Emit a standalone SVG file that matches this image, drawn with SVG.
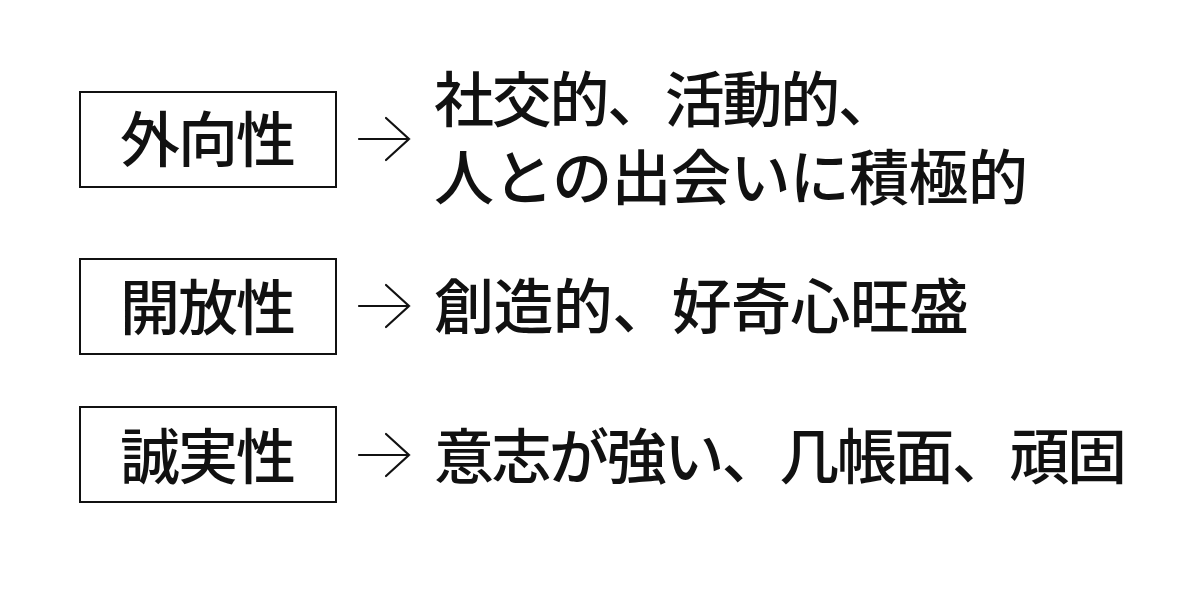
<svg xmlns="http://www.w3.org/2000/svg" width="1200" height="590" viewBox="0 0 1200 590">
<style>
.box{fill:#fff;stroke:#111;stroke-width:2}
.lbl{font-family:"Noto Sans CJK JP","Noto Sans CJK SC",sans-serif;font-size:60px;fill:#111;font-weight:500}
.desc{font-family:"Noto Sans CJK JP","Noto Sans CJK SC",sans-serif;font-size:60px;fill:#111;font-weight:500}
.arr{fill:none;stroke:#111;stroke-width:2.2;stroke-linecap:round;stroke-linejoin:miter}
</style>
<rect width="1200" height="590" fill="#fff"/>
<g id="node-extraversion">
<rect class="box" x="80" y="92" width="256" height="95"/>
<text class="lbl" x="208" y="162" text-anchor="middle" textLength="176" lengthAdjust="spacing">外向性</text>
</g>
<g id="node-openness">
<rect class="box" x="80" y="259" width="256" height="95"/>
<text class="lbl" x="208" y="330" text-anchor="middle" textLength="176" lengthAdjust="spacing">開放性</text>
</g>
<g id="node-conscientiousness">
<rect class="box" x="80" y="407" width="256" height="95"/>
<text class="lbl" x="208" y="479" text-anchor="middle" textLength="176" lengthAdjust="spacing">誠実性</text>
</g>
<g id="desc-extraversion">
<text class="desc"><tspan x="434" y="122" textLength="464" lengthAdjust="spacing">社交的、活動的、</tspan><tspan x="434" y="200" textLength="594" lengthAdjust="spacing">人との出会いに積極的</tspan></text>
</g>
<g id="desc-openness">
<text class="desc" x="434" y="329" textLength="535" lengthAdjust="spacing">創造的、好奇心旺盛</text>
</g>
<g id="desc-conscientiousness">
<text class="desc" x="434" y="479" textLength="693" lengthAdjust="spacing">意志が強い、几帳面、頑固</text>
</g>
<g id="connectors">
<path class="arr" d="M359 139H409M386 118L409 139L386 160"/>
<path class="arr" d="M359 306H409M386 285L409 306L386 327"/>
<path class="arr" d="M359 455H409M386 434L409 455L386 476"/>
</g>
</svg>
